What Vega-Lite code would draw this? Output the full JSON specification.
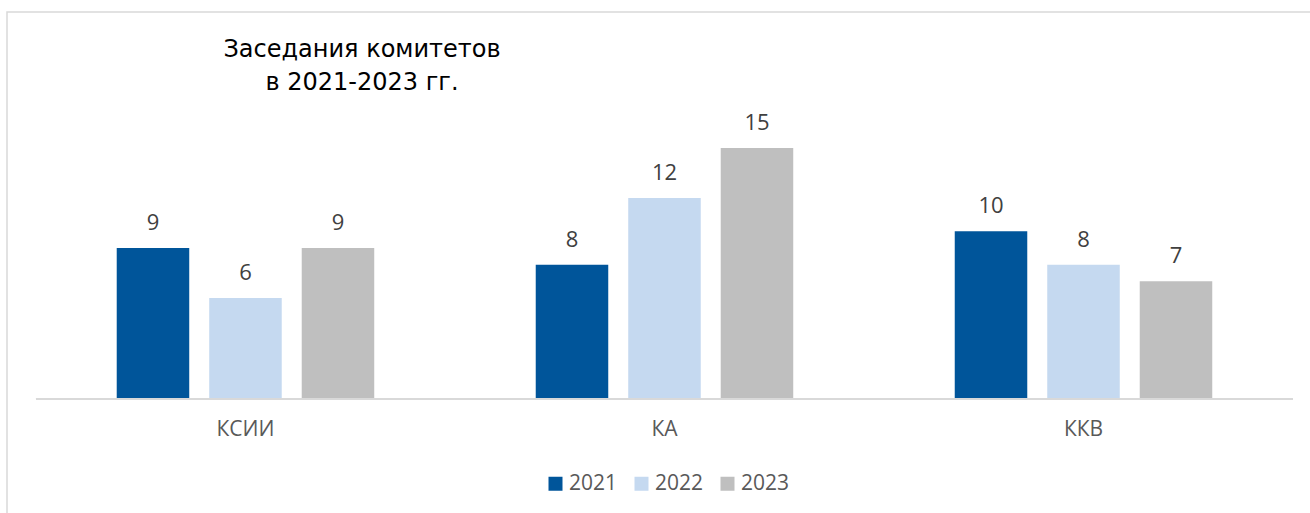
{
  "$schema": "https://vega.github.io/schema/vega-lite/v6.json",
  "autosize": "none",
  "padding": {"left": 7, "top": 12, "right": 0, "bottom": 0},
  "width": 1310,
  "height": 510,
  "background": "white",
  "config": {"view": {"stroke": "#D9D9D9", "strokeWidth": 1.5}, "font": "Open Sans"},
  "title": {
    "text": ["Заседания комитетов", "в 2021-2023 гг."],
    "font": "DejaVu Sans",
    "fontSize": 24,
    "fontWeight": "normal",
    "color": "#000000",
    "anchor": "middle",
    "dx": -300,
    "dy": 83,
    "offset": 0,
    "baseline": "top",
    "lineHeight": 32.6
  },
  "data": {
    "values": [
      {"category": "КСИИ", "year": "2021", "value": 9},
      {"category": "КСИИ", "year": "2022", "value": 6},
      {"category": "КСИИ", "year": "2023", "value": 9},
      {"category": "КА", "year": "2021", "value": 8},
      {"category": "КА", "year": "2022", "value": 12},
      {"category": "КА", "year": "2023", "value": 15},
      {"category": "ККВ", "year": "2021", "value": 10},
      {"category": "ККВ", "year": "2022", "value": 8},
      {"category": "ККВ", "year": "2023", "value": 7}
    ]
  },
  "encoding": {
    "x": {
      "field": "category",
      "type": "nominal",
      "sort": ["КСИИ", "КА", "ККВ"],
      "scale": {"paddingInner": 0, "paddingOuter": 0.0632, "align": 0.547},
      "axis": {
        "title": null,
        "orient": "bottom",
        "offset": -124,
        "domain": false,
        "ticks": false,
        "grid": false,
        "labelAngle": 0,
        "labelFontSize": 21,
        "labelColor": "#595959",
        "labelFont": "Open Sans",
        "labelBaseline": "alphabetic",
        "labelPadding": 37
      }
    }
  },
  "layer": [
    {
      "mark": {"type": "bar"},
      "encoding": {
        "y": {"datum": 0, "type": "quantitative", "scale": {"domain": [-7.44, 23.16], "nice": false, "zero": false}, "axis": null},
        "y2": {"datum": -0.1},
        "color": {"value": "#D9D9D9"}
      }
    },
    {
      "mark": {"type": "bar"},
      "encoding": {
        "xOffset": {"field": "year", "type": "nominal", "scale": {"paddingInner": 0.216, "paddingOuter": 0.873}},
        "y": {"field": "value", "type": "quantitative", "scale": {"domain": [-7.44, 23.16], "nice": false, "zero": false}, "axis": null},
        "y2": {"datum": 0},
        "color": {
          "field": "year",
          "type": "nominal",
          "scale": {"domain": ["2021", "2022", "2023"], "range": ["#00559A", "#C5D9F0", "#BFBFBF"]},
          "legend": {
            "title": null,
            "orient": "none",
            "legendX": 538,
            "legendY": 461,
            "direction": "horizontal",
            "symbolType": "square",
            "symbolSize": 196,
            "symbolStrokeWidth": 0,
            "labelFontSize": 21,
            "labelColor": "#595959",
            "labelFont": "Open Sans",
            "labelOffset": 3,
            "columnPadding": 13,
            "padding": 0
          }
        }
      }
    },
    {
      "mark": {"type": "text", "dy": -18, "baseline": "alphabetic", "fontSize": 22, "color": "#404040", "font": "Open Sans"},
      "encoding": {
        "xOffset": {"field": "year", "type": "nominal", "scale": {"paddingInner": 0.216, "paddingOuter": 0.873}},
        "y": {"field": "value", "type": "quantitative", "scale": {"domain": [-7.44, 23.16], "nice": false, "zero": false}, "axis": null},
        "text": {"field": "value", "type": "quantitative"}
      }
    }
  ]
}
